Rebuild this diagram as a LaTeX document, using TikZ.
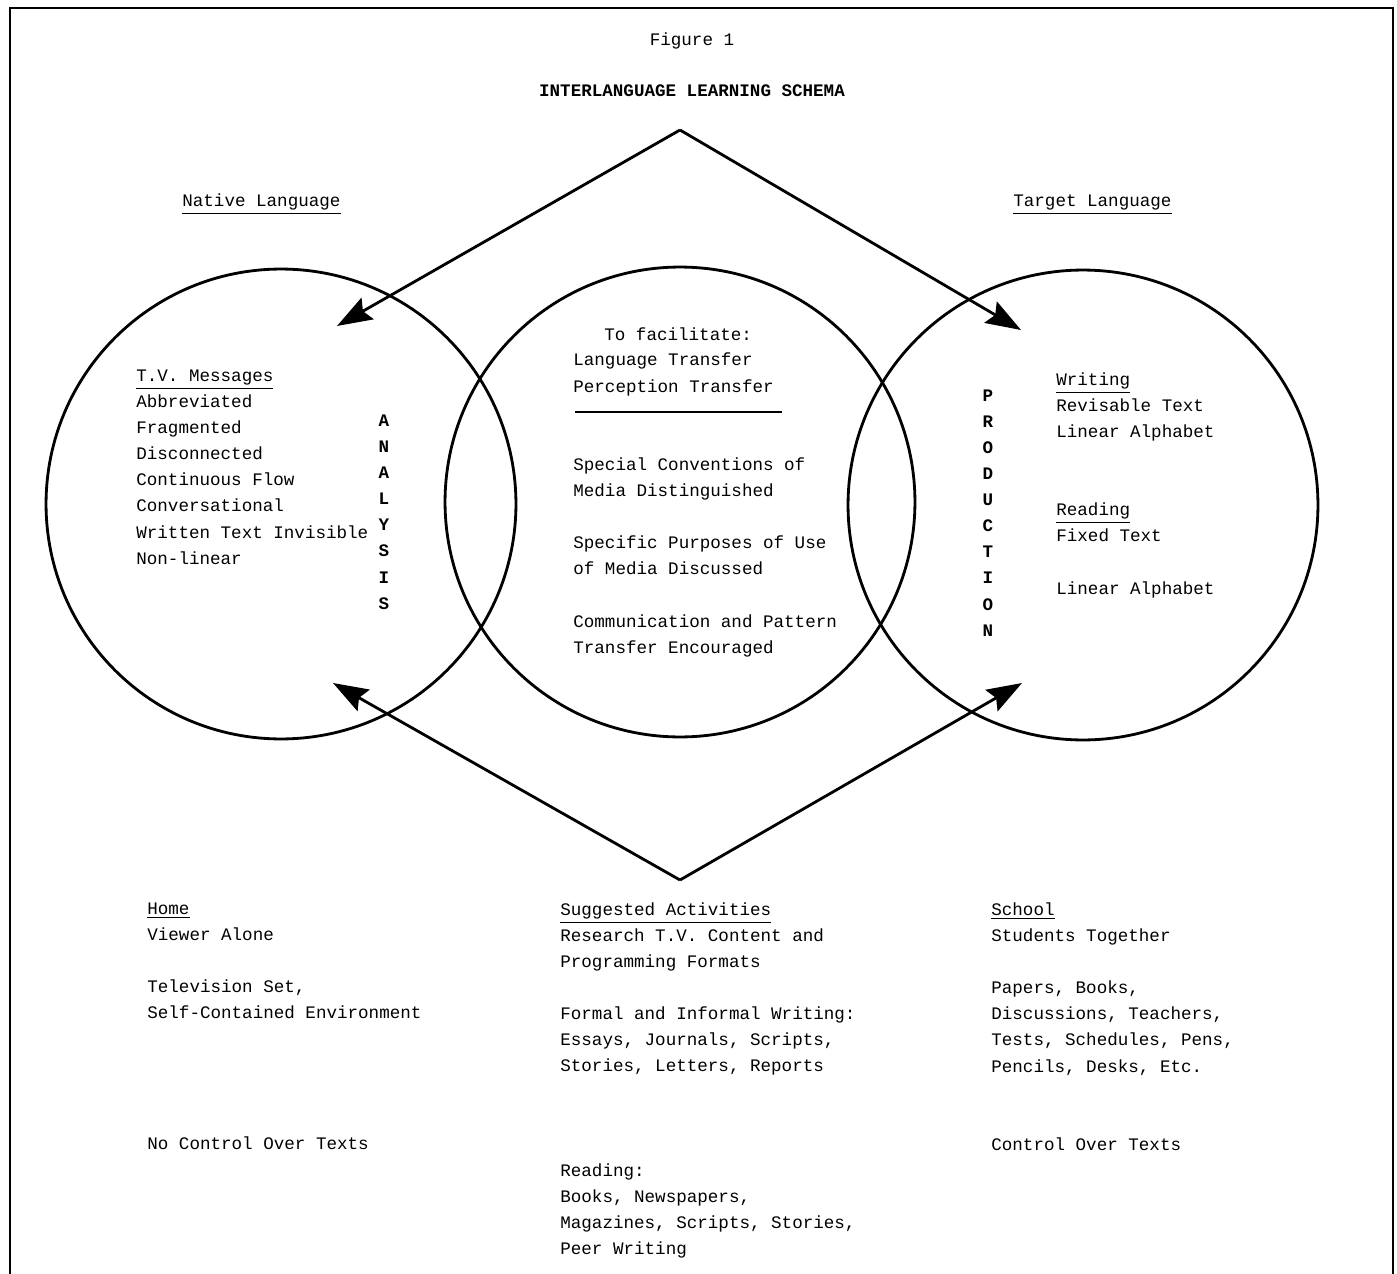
\documentclass[tikz,border=0pt]{standalone}
\usepackage{fontspec}
\setmonofont{Liberation Mono}
\usetikzlibrary{arrows.meta}
\tikzset{
  txt/.style={font=\ttfamily\fontsize{10}{14.8}\selectfont, inner sep=0pt, align=left, anchor=base west},
  letters/.style={font=\ttfamily\bfseries\fontsize{10}{14.8}\selectfont, inner sep=0pt, align=center, anchor=base},
  ring/.style={draw, circle, line width=1.6pt, minimum size=9.4cm, inner sep=0pt},
  arr/.style={line width=1.6pt, -{Stealth[length=20pt,width=14pt,inset=3pt]}}
}
\begin{document}
\begin{tikzpicture}[x=0.02cm, y=-0.02cm]
      \useasboundingbox (0,0) rectangle (1397,1274);
      \draw [line width=1.2pt] (10,1274) -- (10,8) -- (1393,8) -- (1393,1274);
      \node [txt, anchor=base] (fig) at (692,46) {Figure 1};
      \node [txt, anchor=base, font=\ttfamily\bfseries\fontsize{10}{14.8}\selectfont] (title) at (692,97) {INTERLANGUAGE LEARNING SCHEMA};
      \node [txt] (native) at (182,207) {\underline{Native Language}};
      \node [txt] (target) at (1013,207) {\underline{Target Language}};
      % the three circles
      \node [ring] (left) at (281,504) {};
      \node [ring] (mid) at (680,502) {};
      \node [ring] (right) at (1083,505) {};
      % diamond of arrows
      \coordinate (apex) at (680,130);
      \coordinate (foot) at (680,880);
      \coordinate (tipnw) at (337,326);
      \coordinate (tipne) at (1021,330);
      \coordinate (tipsw) at (333,683);
      \coordinate (tipse) at (1022,683);
      \draw [arr] (apex) -- (tipnw);
      \draw [arr] (apex) -- (tipne);
      \draw [arr] (foot) -- (tipsw);
      \draw [arr] (foot) -- (tipse);
      % inside the circles (base = last line)
      \node [txt] (tv) at (136,564) {\underline{T.V. Messages}\\Abbreviated\\Fragmented\\Disconnected\\Continuous Flow\\Conversational\\Written Text Invisible\\Non-linear};
      \node [letters] (analysis) at (384,609) {A\\N\\A\\L\\Y\\S\\I\\S};
      \node [txt] (facil) at (604,340) {To facilitate:};
      \node [txt] (transfer) at (573,392) {Language Transfer\\Perception Transfer};
      \draw [line width=1.1pt] (575,412) -- (782,412);
      \node [txt] (special) at (573,653) {Special Conventions of\\Media Distinguished\\\mbox{}\\Specific Purposes of Use\\of Media Discussed\\\mbox{}\\Communication and Pattern\\Transfer Encouraged};
      \node [letters] (production) at (988,636) {P\\R\\O\\D\\U\\C\\T\\I\\O\\N};
      \node [txt] (writing) at (1056,594) {\underline{Writing}\\Revisable Text\\Linear Alphabet\\\mbox{}\\\mbox{}\\\underline{Reading}\\Fixed Text\\\mbox{}\\Linear Alphabet};
      % below the circles
      \node [txt] (home) at (147,1149) {\underline{Home}\\Viewer Alone\\\mbox{}\\Television Set,\\Self-Contained Environment\\\mbox{}\\\mbox{}\\\mbox{}\\\mbox{}\\No Control Over Texts};
      \node [txt] (activities) at (560,1254) {\underline{Suggested Activities}\\Research T.V. Content and\\Programming Formats\\\mbox{}\\Formal and Informal Writing:\\Essays, Journals, Scripts,\\Stories, Letters, Reports\\\mbox{}\\\mbox{}\\\mbox{}\\Reading:\\Books, Newspapers,\\Magazines, Scripts, Stories,\\Peer Writing};
      \node [txt] (school) at (991,1150) {\underline{School}\\Students Together\\\mbox{}\\Papers, Books,\\Discussions, Teachers,\\Tests, Schedules, Pens,\\Pencils, Desks, Etc.\\\mbox{}\\\mbox{}\\Control Over Texts};
\end{tikzpicture}
\end{document}
